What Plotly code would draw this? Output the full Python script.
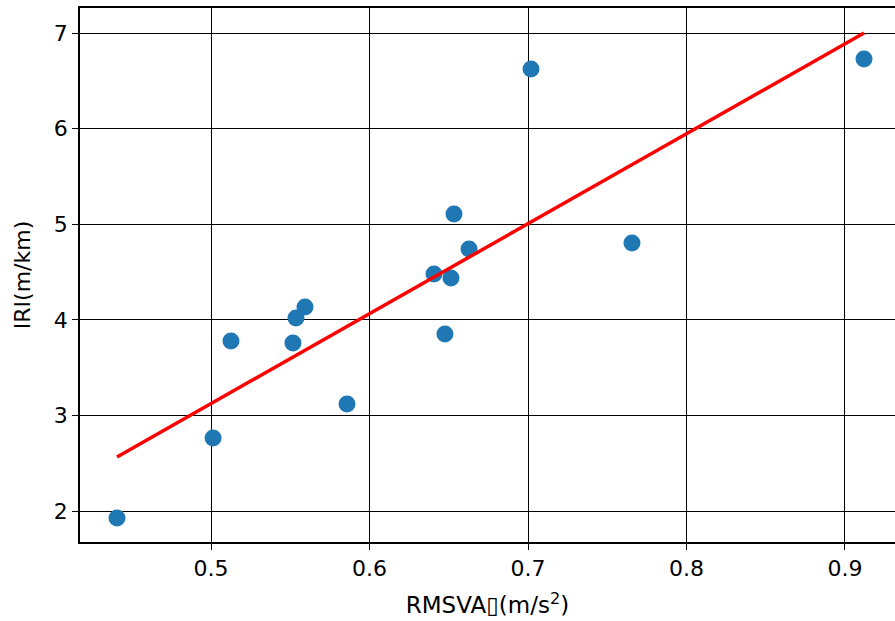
import plotly.graph_objects as go

rmsva = [0.4407, 0.5013, 0.5126, 0.5517, 0.5536, 0.5593, 0.5858, 0.6407,
         0.6476, 0.6514, 0.6533, 0.6628, 0.7019, 0.7656, 0.9120]
iri = [1.927, 2.764, 3.778, 3.757, 4.019, 4.134, 3.119, 4.479,
       3.851, 4.437, 5.107, 4.741, 6.623, 4.803, 6.728]

fit_x = [0.4407, 0.9120]
fit_y = [2.565, 7.000]

xticks = [0.5, 0.6, 0.7, 0.8, 0.9]
yticks = [2, 3, 4, 5, 6, 7]

font = "DejaVu Sans"

fig = go.Figure()
fig.add_trace(go.Scatter(x=rmsva, y=iri, mode="markers",
                         marker=dict(color="#1f77b4", size=17, line=dict(width=0)),
                         showlegend=False))
fig.add_trace(go.Scatter(x=fit_x, y=fit_y, mode="lines",
                         line=dict(color="red", width=3.5), showlegend=False))

fig.update_layout(
    width=895, height=621,
    margin=dict(l=80, r=0, t=8, b=79),
    paper_bgcolor="white", plot_bgcolor="white",
    font=dict(family=font, size=22, color="black"),
    xaxis=dict(range=[0.41735, 0.93155], tickvals=xticks,
               ticktext=[f"{v:.1f}" for v in xticks],
               showgrid=True, gridcolor="black", gridwidth=1,
               zeroline=False, showline=True, linecolor="black", linewidth=1.5,
               mirror=True, ticks="outside", ticklen=6, tickcolor="black",
               tickfont=dict(family=font, size=22),
               title=dict(text="RMSVA\u25af(m/s<sup>2</sup>)", standoff=17,
                          font=dict(family=font, size=23))),
    yaxis=dict(range=[1.6757, 7.2615], tickvals=yticks,
               ticktext=[str(v) for v in yticks],
               showgrid=True, gridcolor="black", gridwidth=1,
               zeroline=False, showline=True, linecolor="black", linewidth=1.5,
               mirror=False, ticks="outside", ticklen=6, tickcolor="black",
               tickfont=dict(family=font, size=22),
               title=dict(text="IRI(m/km)", standoff=17,
                          font=dict(family=font, size=22))),
)

fig.write_html("out.html")
